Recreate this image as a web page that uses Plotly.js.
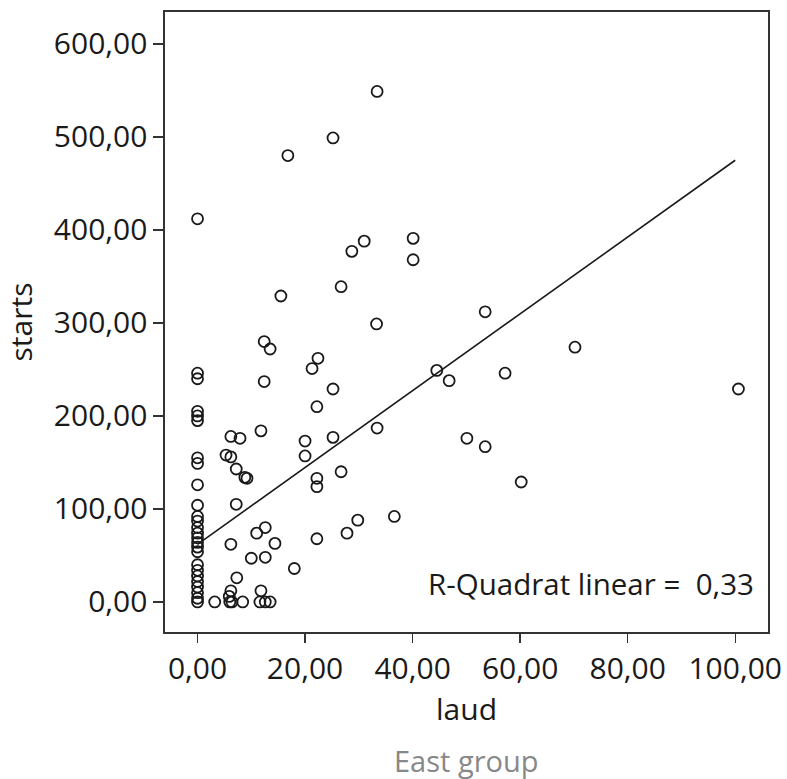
<!DOCTYPE html>
<html>
<head>
<meta charset="utf-8">
<script src="https://cdn.plot.ly/plotly-3.0.1.min.js"></script>
<style>html,body{margin:0;padding:0;background:#fff;}#chart{width:787px;height:779px;}</style>
</head>
<body>
<div id="chart"></div>
<script>
// Data
const laud = [
  0,0,0,0,0,0,0,0,0,0,0,0,0,0,0,0,0,0,0,0,0,0,0,0,0,0,
  16.8,25.2,33.4,
  31,28.7,40.1,40.1,
  15.5,26.7,33.3,53.5,
  12.4,13.5,22.4,21.3,
  12.4,25.2,44.5,46.8,57.2,70.2,100.6,
  22.2,11.8,33.4,25.2,20,20,
  50.1,53.5,60.2,
  6.2,7.9,5.3,6.2,7.2,8.8,9.2,
  22.2,22.2,26.7,
  7.2,36.6,29.8,27.8,22.2,
  11,12.6,10,12.6,14.4,6.2,
  18,7.3,6.2,5.9,11.8,
  3.2,6.0,6.4,8.4,11.6,12.6,13.5
];
const starts = [
  412,246,240,205,200,195,155,149,126,104,92,87,80,74,69,64,59,54,40,34,28,22,16,10,4,0,
  480,499,549,
  388,377,391,368,
  329,339,299,312,
  280,272,262,251,
  237,229,249,238,246,274,229,
  210,184,187,177,173,157,
  176,167,129,
  178,176,158,156,143,134,133,
  133,124,140,
  105,92,88,74,68,
  74,80,47,48,63,62,
  36,26,12,6,12,
  0,0,0,0,0,0,0
];
const fitX = [0, 100];
const fitY = [62, 475];
const xTicks = [0, 20, 40, 60, 80, 100];
const yTicks = [0, 100, 200, 300, 400, 500, 600];
const rsqText = "R-Quadrat linear =  0,33";
const groupText = "East group";

const FONT = "Open Sans, Noto Sans, sans-serif";

const traces = [
  {
    x: laud, y: starts, type: 'scatter', mode: 'markers',
    marker: {symbol: 'circle-open', size: 11, color: '#1a1a1a', line: {width: 1.8, color: '#1a1a1a'}},
    hoverinfo: 'x+y'
  },
  {
    x: fitX, y: fitY, type: 'scatter', mode: 'lines',
    line: {color: '#1a1a1a', width: 1.6}
  }
];

const layout = {
  width: 787, height: 779,
  margin: {l: 165, r: 19, t: 12, b: 147},
  paper_bgcolor: '#fff', plot_bgcolor: '#fff',
  showlegend: false,
  separators: ',.',
  font: {family: FONT, size: 30, color: '#1a1a1a'},
  xaxis: {
    range: [-6.05, 106.1],
    tickvals: xTicks, tickformat: '.2f',
    showgrid: false, zeroline: false,
    showline: true, mirror: true, linecolor: '#333', linewidth: 1.6,
    ticks: 'outside', ticklen: 9, tickwidth: 1.4, tickcolor: '#333',
    tickfont: {family: FONT, size: 30, color: '#1a1a1a'},
    title: {text: 'laud', font: {family: FONT, size: 30, color: '#1a1a1a'}, standoff: 12}
  },
  yaxis: {
    range: [-32.3, 634.4],
    tickvals: yTicks, tickformat: '.2f',
    showgrid: false, zeroline: false,
    showline: true, mirror: true, linecolor: '#333', linewidth: 1.6,
    ticks: 'outside', ticklen: 10, tickwidth: 1.4, tickcolor: '#333',
    tickfont: {family: FONT, size: 30, color: '#1a1a1a'},
    title: {text: 'starts', font: {family: FONT, size: 30, color: '#1a1a1a'}, standoff: 14}
  },
  annotations: [
    {
      text: rsqText, xref: 'paper', yref: 'paper', x: 0.98, y: 0.078,
      xanchor: 'right', yanchor: 'middle', showarrow: false,
      font: {family: FONT, size: 29.5, color: '#1a1a1a'}
    },
    {
      text: groupText, xref: 'paper', yref: 'paper', x: 0.5, y: -0.208,
      xanchor: 'center', yanchor: 'middle', showarrow: false,
      font: {family: FONT, size: 29, color: '#888'}
    }
  ]
};

Plotly.newPlot('chart', traces, layout, {displayModeBar: false, staticPlot: true});
</script>
</body>
</html>
